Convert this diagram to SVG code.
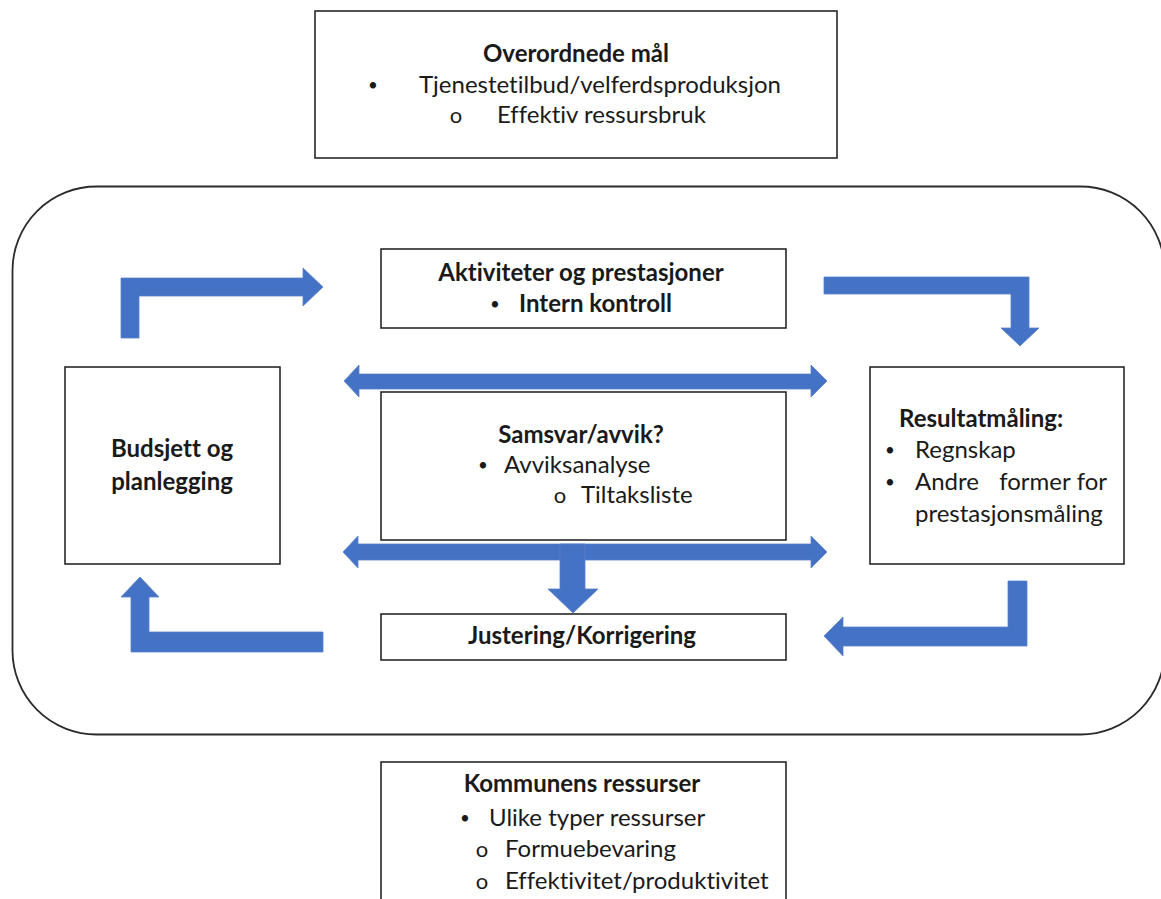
<svg xmlns="http://www.w3.org/2000/svg" width="1161" height="899" viewBox="0 0 1161 899">
  <style>
    .box { fill: #ffffff; stroke: #1a1a1a; stroke-width: 1.5; }
    .frame { fill: none; stroke: #2b2b2b; stroke-width: 1.8; }
    .arrow { fill: #4472c4; stroke: #5a82cc; stroke-width: 0.8; }
    text { font-family: "Lato", "Liberation Sans", sans-serif; font-size: 24px; fill: #1a1a1a; font-variant-ligatures: none; }
    .b { font-weight: bold; }
    .c { text-anchor: middle; }
    .dot { font-size: 17px; }
    .ring { font-size: 22px; }
  </style>

  <!-- outer rounded frame -->
  <rect class="frame" x="12.5" y="186.5" width="1152" height="548" rx="84" ry="84"/>

  <g id="connectors">
    <path class="arrow" d="M121,338 L121,278 L303,278 L303,268 L323,287 L303,306 L303,296 L139,296 L139,338 Z"/>
    <path class="arrow" d="M824,277 L1029,277 L1029,328 L1039,328 L1020,346 L1001,328 L1011,328 L1011,294 L824,294 Z"/>
    <path class="arrow" d="M344,381 L359,365 L359,374 L811,374 L811,365 L827,381 L811,397 L811,389 L359,389 L359,397 Z"/>
    <path class="arrow" d="M343,552 L358,536 L358,544 L811,544 L811,536 L827,552 L811,568 L811,560 L358,560 L358,568 Z"/>
    <path class="arrow" d="M560,544 L585,544 L585,589 L598,589 L573,613 L548,589 L560,589 Z"/>
    <path class="arrow" d="M1008,581 L1027,581 L1027,646 L843,646 L843,656 L824,636 L843,617 L843,627 L1008,627 Z"/>
    <path class="arrow" d="M323,632 L323,652 L131,652 L131,597 L121,597 L140,577 L159,597 L149,597 L149,632 Z"/>
  </g>

  <g id="overordnede-maal">
    <rect class="box" x="315" y="11" width="522" height="147"/>
    <text class="b c" x="576" y="62">Overordnede mål</text>
    <text class="dot c" x="373" y="91">•</text>
    <text x="419" y="93">Tjenestetilbud/velferdsproduksjon</text>
    <text class="ring c" x="456" y="123">o</text>
    <text x="497" y="123">Effektiv ressursbruk</text>
  </g>

  <g id="aktiviteter">
    <rect class="box" x="381" y="249" width="405" height="79"/>
    <text class="b c" x="581" y="281">Aktiviteter og prestasjoner</text>
    <text class="dot c" x="495" y="310">•</text>
    <text class="b" x="519" y="312">Intern kontroll</text>
  </g>

  <g id="budsjett">
    <rect class="box" x="65" y="367" width="215" height="197"/>
    <text class="b c" x="172" y="457">Budsjett og</text>
    <text class="b c" x="172" y="490">planlegging</text>
  </g>

  <g id="samsvar">
    <rect class="box" x="381" y="392" width="405" height="148"/>
    <text class="b c" x="581" y="443">Samsvar/avvik?</text>
    <text class="dot c" x="483" y="471">•</text>
    <text x="504" y="473">Avviksanalyse</text>
    <text class="ring c" x="560" y="503">o</text>
    <text x="581" y="503">Tiltaksliste</text>
  </g>

  <g id="resultatmaaling">
    <rect class="box" x="870" y="367" width="254" height="197"/>
    <text class="b" x="899" y="427">Resultatmåling:</text>
    <text class="dot c" x="890" y="456">•</text>
    <text x="915" y="458">Regnskap</text>
    <text class="dot c" x="890" y="488">•</text>
    <text x="915" y="490">Andre</text>
    <text class="c" x="1035" y="490">former</text>
    <text x="1107" y="490" text-anchor="end">for</text>
    <text x="915" y="522">prestasjonsmåling</text>
  </g>

  <g id="justering">
    <rect class="box" x="381" y="614" width="405" height="46"/>
    <text class="b c" x="582" y="644">Justering/Korrigering</text>
  </g>

  <g id="kommunens-ressurser">
    <rect class="box" x="381" y="762" width="405" height="150"/>
    <text class="b c" x="582" y="792">Kommunens ressurser</text>
    <text class="dot c" x="465" y="824">•</text>
    <text x="489" y="826">Ulike typer ressurser</text>
    <text class="ring c" x="482" y="857">o</text>
    <text x="505" y="857">Formuebevaring</text>
    <text class="ring c" x="482" y="889">o</text>
    <text x="505" y="889">Effektivitet/produktivitet</text>
  </g>
</svg>
